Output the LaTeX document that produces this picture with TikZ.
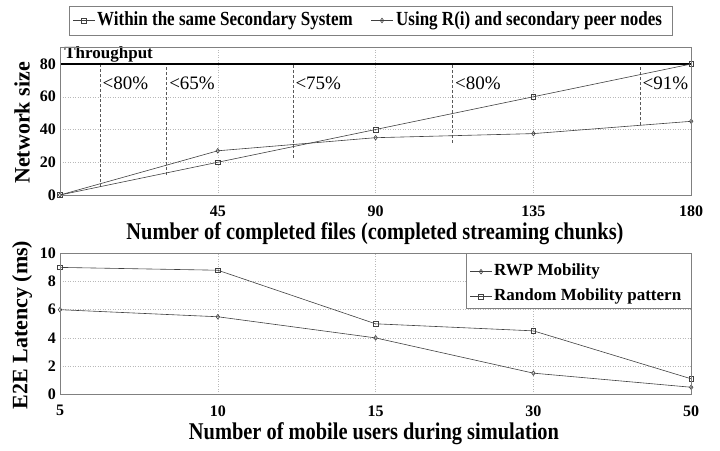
\documentclass[tikz,border=0pt]{standalone}
\usepackage{fontspec}
\setmainfont{Liberation Serif}
\usepackage{tikz}
\usetikzlibrary{plotmarks}

\tikzset{
	plotframe/.style = {draw=gray, line width=0.9pt},
	gridline/.style = {gray!55, dotted, line width=0.5pt},
	seriesline/.style = {black!75, line width=0.6pt, mark size=2.3pt, mark options={solid, fill=white}},
	cutline/.style = {black!65, dash pattern=on 3pt off 2pt, line width=0.6pt},
	ticklabel/.style = {font=\bfseries\fontsize{16}{16}\selectfont, inner sep=0pt},
	axislabel/.style = {font=\bfseries\fontsize{24}{24}\selectfont, inner sep=0pt, xscale=0.85, transform shape},
	sidelabel/.style = {font=\bfseries\fontsize{22}{22}\selectfont, inner sep=0pt, rotate=90},
	legendtext/.style = {font=\bfseries\fontsize{20}{20}\selectfont, inner sep=0pt, anchor=west, xscale=0.85, transform shape},
	boxtext/.style = {font=\bfseries\fontsize{17}{17}\selectfont, inner sep=0pt, anchor=west},
	pctlabel/.style = {font=\fontsize{19}{19}\selectfont, inner sep=0pt, anchor=west}
}

\begin{document}
\begin{tikzpicture}[x=1pt, y=-1pt]
	\useasboundingbox (0,0) rectangle (720,450);
	
	% legend of the upper plot
	\draw [plotframe, fill=white] (69,6) rectangle (672,35);
	\draw [seriesline] plot [mark=square, mark indices={2}] coordinates {(73,20.5) (84,20.5) (95,20.5)};
	\node [legendtext] (leg1) at (97,20.5) {Within the same Secondary System};
	\draw [seriesline] plot [mark=diamond, mark indices={2}] coordinates {(371,20.5) (382,20.5) (393,20.5)};
	\node [legendtext] (leg2) at (396,20.5) {Using R(i) and secondary peer nodes};
	
	% upper plot
	\begin{scope}[shift={(60,195)}, x=3.5067pt, y=1.6375pt]
		\foreach \x in {45,90,135}
			\draw [gridline] (\x,0) -- (\x,90);
		\foreach \y in {20,40,60}
			\draw [gridline] (0,\y) -- (180,\y);
		
		\foreach \x/\y/\t [count=\i] in {11.4/5.1/{<80\%}, 30.4/12.2/{<65\%}, 66.4/22.6/{<75\%}, 111.9/31.8/{<80\%}, 165.4/42.7/{<91\%}}
		{
			\draw [cutline] (\x,\y) -- (\x,80);
			\node [pctlabel] (pct\i) at (\x+0.7,68.3) {\t};
		}
		
		\draw [line width=1.5pt] (0,80) -- (180,80);
		\node [boxtext, anchor=south west] (thr) at (1.2,80.8) {Throughput};
		
		\draw [seriesline] plot [mark=square] coordinates {(0,0) (45,20) (90,40) (135,60) (180,80)};
		\draw [seriesline] plot [mark=diamond] coordinates {(0,0) (45,27) (90,35) (135,37.5) (180,45)};
		
		\draw [plotframe] (0,0) rectangle (180,90);
		
		\foreach \y in {0,20,...,80}
			\node [ticklabel, anchor=east, xshift=-4pt] (ty\y) at (0,\y) {\y};
		\foreach \x in {45,90,135,180}
			\node [ticklabel, anchor=north, yshift=-11pt] (tx\x) at (\x,0) {\x};
	\end{scope}
	\node [axislabel] (xlab1) at (375,234) {Number of completed files (completed streaming chunks)};
	\node [sidelabel] (ylab1) at (22,123) {Network size};
	
	% lower plot
	\begin{scope}[shift={(60,394.3)}, x=157.8pt, y=14.1pt]
		\foreach \x in {1,2,3}
			\draw [gridline] (\x,0) -- (\x,10);
		\foreach \y in {2,4,6,8}
			\draw [gridline] (0,\y) -- (4,\y);
		
		\draw [seriesline] plot [mark=square] coordinates {(0,9) (1,8.8) (2,5) (3,4.5) (4,1.1)};
		\draw [seriesline] plot [mark=diamond] coordinates {(0,6) (1,5.5) (2,4) (3,1.5) (4,0.5)};
		
		\draw [plotframe] (0,0) rectangle (4,10);
		
		\foreach \y in {0,2,...,10}
			\node [ticklabel, anchor=east, xshift=-4pt] (uy\y) at (0,\y) {\y};
		\foreach \t [count=\i from 0] in {5,10,15,30,50}
			\node [ticklabel, anchor=north, yshift=-11pt] (ux\i) at (\i,0) {\t};
	\end{scope}
	\node [axislabel] (xlab2) at (374,434) {Number of mobile users during simulation};
	\node [sidelabel] (ylab2) at (22,325) {E2E Latency (ms)};
	
	% legend of the lower plot
	\draw [plotframe, fill=white] (466.7,253.3) rectangle (691.7,308.3);
	\draw [seriesline] plot [mark=diamond, mark indices={2}] coordinates {(470,271.7) (481,271.7) (492,271.7)};
	\node [boxtext] (leg3) at (494,271.7) {RWP Mobility};
	\draw [seriesline] plot [mark=square, mark indices={2}] coordinates {(470,296.7) (481,296.7) (492,296.7)};
	\node [boxtext] (leg4) at (494,296.7) {Random Mobility pattern};
\end{tikzpicture}
\end{document}
